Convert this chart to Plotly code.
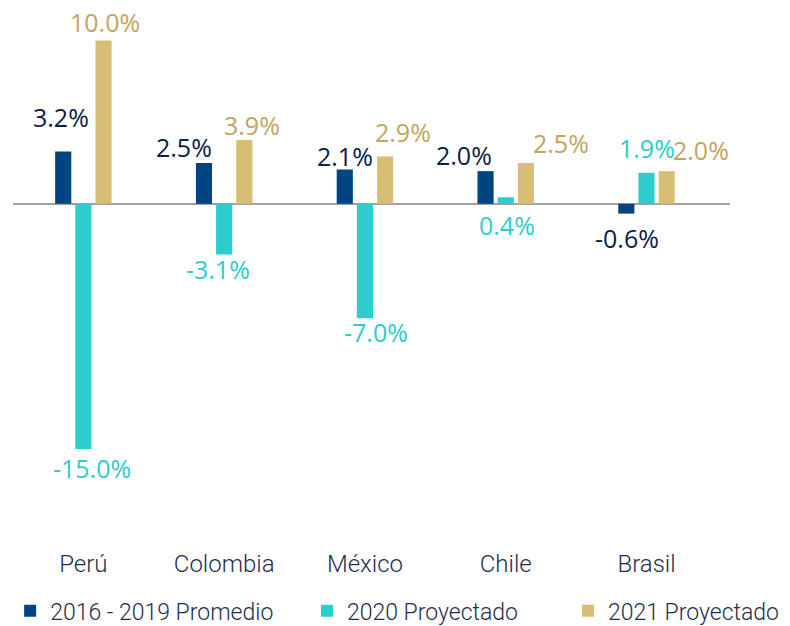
import plotly.graph_objects as go

paises = ["Perú", "Colombia", "México", "Chile", "Brasil"]
promedio_16_19 = [3.2, 2.5, 2.1, 2.0, -0.6]
proy_2020 = [-15.0, -3.1, -7.0, 0.4, 1.9]
proy_2021 = [10.0, 3.9, 2.9, 2.5, 2.0]

nombres = ["2016 - 2019 Promedio", "2020 Proyectado", "2021 Proyectado"]
valores = [promedio_16_19, proy_2020, proy_2021]
colores = ["#004481", "#2DCCCD", "#D8BE75"]
colores_txt = ["#0A2146", "#2DCCCD", "#C2A45E"]

# label nudges in px (dx, dy from bar end; dy > 0 is up) to mimic the original placement
ajustes = {
    ("Perú", 0): (-2, 35), ("Perú", 1): (9, -19), ("Perú", 2): (1, 18),
    ("Colombia", 0): (-20, 16), ("Colombia", 1): (-6, -15), ("Colombia", 2): (7, 15),
    ("México", 0): (1, 14), ("México", 1): (11, -14), ("México", 2): (18, 24),
    ("Chile", 0): (-21, 16), ("Chile", 1): (1, -28), ("Chile", 2): (35, 20),
    ("Brasil", 0): (1, -24), ("Brasil", 1): (0, 25), ("Brasil", 2): (34, 21),
}

paso = 20.5  # px between bar centres inside a group

leg_x = [-0.004, 0.41, 0.774]

fig = go.Figure()
for i, (nombre, vals) in enumerate(zip(nombres, valores)):
    fig.add_trace(go.Bar(
        x=paises, y=vals, name=nombre,
        marker=dict(color=colores[i], line=dict(width=0)),
        legend="legend" if i == 0 else f"legend{i + 1}",
    ))
    for pais, v in zip(paises, vals):
        dx, dy = ajustes[(pais, i)]
        fig.add_annotation(
            x=pais, y=v, xref="x", yref="y",
            xshift=(i - 1) * paso + dx, yshift=dy,
            yanchor="middle", showarrow=False, borderpad=0,
            text=f"{v:.1f}%",
            font=dict(family="Open Sans", size=25, weight=500, color=colores_txt[i]),
        )

leg_font = dict(family="Roboto", size=23, weight=300, color="#1F2D4D")
leg_comun = dict(orientation="h", xanchor="left", y=-0.119, yanchor="middle",
                 font=leg_font, bgcolor="rgba(0,0,0,0)")

fig.update_layout(
    width=790, height=626,
    margin=dict(l=2, r=68, t=2.5, b=86),
    paper_bgcolor="white", plot_bgcolor="white",
    barmode="group", bargap=0.57, bargroupgap=0.2,
    showlegend=True,
    legend=dict(x=leg_x[0], **leg_comun),
    legend2=dict(x=leg_x[1], **leg_comun),
    legend3=dict(x=leg_x[2], **leg_comun),
    font=dict(family="Roboto", color="#1F2D4D"),
)
fig.update_xaxes(
    showline=False, showgrid=False, ticks="",
    tickfont=dict(family="Roboto", size=24, weight=300, color="#1F2D4D"),
)
fig.update_yaxes(
    range=[-21, 11.8], showgrid=False, showticklabels=False, ticks="",
    zeroline=True, zerolinecolor="#A0A0A0", zerolinewidth=2,
)

fig.write_html("out.html")
